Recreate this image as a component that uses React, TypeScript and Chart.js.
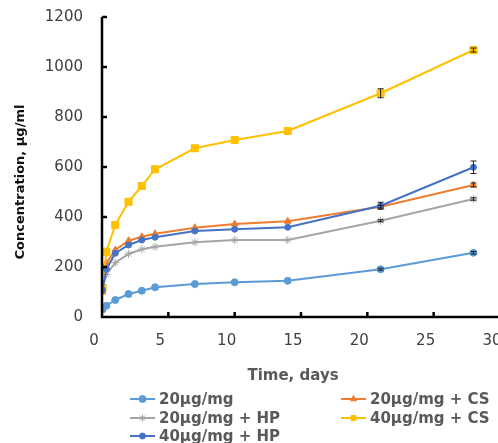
import React, { useEffect, useRef } from "react";
import { Chart, registerables } from "chart.js";
import { drawPoint } from "chart.js/helpers";

Chart.register(...registerables);

// ---- data ----
const days = [0.04, 0.33, 1, 2, 3, 4, 7, 10, 14, 21, 28];
const conc20 = [30, 45, 68, 92, 105, 119, 132, 139, 145, 191, 257];
const conc20CS = [100, 215, 268, 305, 321, 333, 357, 372, 383, 441, 528];
const conc20HP = [118, 170, 217, 252, 271, 281, 299, 308, 308, 385, 472];
const conc40CS = [116, 261, 368, 461, 524, 591, 675, 708, 744, 895, 1068];
const conc40HP = [108, 192, 255, 288, 308, 319, 344, 351, 359, 445, 599];
const err20 = [0, 0, 0, 0, 0, 0, 0, 0, 0, 4, 5];
const err20CS = [0, 0, 0, 0, 0, 0, 0, 0, 0, 5, 8];
const err20HP = [0, 0, 0, 0, 0, 0, 0, 0, 0, 4, 5];
const err40CS = [0, 0, 0, 0, 0, 0, 0, 0, 0, 18, 8];
const err40HP = [0, 0, 0, 0, 0, 0, 0, 0, 0, 14, 25];
const seriesNames = ["20µg/mg", "20µg/mg + CS", "20µg/mg + HP", "40µg/mg + CS", "40µg/mg + HP"];
const xTickValues = [0, 5, 10, 15, 20, 25, 30];
const yTickValues = [0, 200, 400, 600, 800, 1000, 1200];
const xTitle = "Time, days";
const yTitle = "Concentration, µg/ml";

const colors = ["#5B9BD5", "#ED7D31", "#A5A5A5", "#FFC000", "#4472C4"];
const markers = ["circle", "triangle", "star", "rect", "circle"];
const markerRadius = [3.5, 4, 4, 5, 3];

const FONT = "'DejaVu Sans', sans-serif";

const decorPlugin = {
  id: "decor",
  afterDatasetsDraw(chart: any) {
    const ctx = chart.ctx;
    const xs = chart.scales.x;
    const ys = chart.scales.y;
    ctx.save();
    ctx.strokeStyle = "#222";
    ctx.lineWidth = 1;
    chart.data.datasets.forEach((ds: any) => {
      (ds.data as any[]).forEach((p: any, i: number) => {
        const e = ds.errors[i];
        if (!e) return;
        const px = xs.getPixelForValue(p.x);
        const y1 = ys.getPixelForValue(p.y - e);
        const y2 = ys.getPixelForValue(p.y + e);
        ctx.beginPath();
        ctx.moveTo(px, y1);
        ctx.lineTo(px, y2);
        ctx.moveTo(px - 3, y1);
        ctx.lineTo(px + 3, y1);
        ctx.moveTo(px - 3, y2);
        ctx.lineTo(px + 3, y2);
        ctx.stroke();
      });
    });
    ctx.restore();
  },
  afterDraw(chart: any) {
    const ctx = chart.ctx;
    const xs = chart.scales.x;
    const ys = chart.scales.y;
    const ca = chart.chartArea;
    ctx.save();
    ctx.strokeStyle = "#000";
    ctx.lineWidth = 2.5;
    ctx.beginPath();
    ctx.moveTo(ca.left, ca.top);
    ctx.lineTo(ca.left, ca.bottom);
    ctx.lineTo(ca.right + 5, ca.bottom);
    ctx.stroke();
    xTickValues.forEach((v) => {
      if (v === 0) return;
      const px = xs.getPixelForValue(v);
      ctx.beginPath();
      ctx.moveTo(px, ca.bottom);
      ctx.lineTo(px, ca.bottom - 5);
      ctx.stroke();
    });
    yTickValues.forEach((v) => {
      if (v === 0) return;
      const py = ys.getPixelForValue(v);
      ctx.beginPath();
      ctx.moveTo(ca.left, py);
      ctx.lineTo(ca.left + 5, py);
      ctx.stroke();
    });
    ctx.fillStyle = "#595959";
    ctx.font = `bold 15px ${FONT}`;
    ctx.textAlign = "center";
    ctx.textBaseline = "middle";
    ctx.fillText(xTitle, 293, 376);
    ctx.save();
    ctx.translate(21, 182);
    ctx.rotate(-Math.PI / 2);
    ctx.fillStyle = "#111";
    ctx.font = `bold 13px ${FONT}`;
    ctx.fillText(yTitle, 0, 0);
    ctx.restore();
    const colX = [130, 341];
    const rowY = [399, 418, 436];
    ctx.font = `bold 15px ${FONT}`;
    ctx.textAlign = "left";
    chart.data.datasets.forEach((ds: any, i: number) => {
      const x = colX[i % 2];
      const y = rowY[Math.floor(i / 2)];
      ctx.strokeStyle = ds.borderColor;
      ctx.lineWidth = 2;
      ctx.beginPath();
      ctx.moveTo(x, y);
      ctx.lineTo(x + 25, y);
      ctx.stroke();
      ctx.fillStyle = ds.borderColor;
      ctx.strokeStyle = ds.borderColor;
      ctx.lineWidth = 1;
      drawPoint(ctx, { pointStyle: ds.pointStyle, radius: Math.min(ds.pointRadius, 3.5), borderWidth: 1, rotation: 0 } as any, x + 12.5, y);
      ctx.fillStyle = "#595959";
      ctx.fillText(ds.label, x + 29, y + 1);
    });
    ctx.restore();
  },
};

export default function App() {
  const ref = useRef<HTMLCanvasElement | null>(null);
  useEffect(() => {
    if (!ref.current) return;
    const all = [conc20, conc20CS, conc20HP, conc40CS, conc40HP];
    const errs = [err20, err20CS, err20HP, err40CS, err40HP];
    const datasets = all.map((vals, i) => ({
      label: seriesNames[i],
      data: vals.map((v, j) => ({ x: days[j], y: v })),
      errors: errs[i],
      borderColor: colors[i],
      backgroundColor: colors[i],
      pointBackgroundColor: colors[i],
      pointBorderColor: colors[i],
      pointStyle: markers[i],
      pointRadius: markerRadius[i],
      pointBorderWidth: 1,
      borderWidth: 2,
      tension: 0,
      order: 5 - i,
    }));
    const chart = new Chart(ref.current, {
      type: "line",
      data: { datasets } as any,
      options: {
        animation: false,
        responsive: true,
        maintainAspectRatio: false,
        layout: { padding: { left: 0, top: 17, right: 20, bottom: 56 } },
        plugins: { legend: { display: false }, tooltip: { enabled: false } },
        scales: {
          x: {
            type: "linear",
            min: 0,
            max: 30,
            grid: { display: false, drawTicks: false },
            border: { display: false },
            afterFit: (s: any) => {
              s.height = 70;
              s.paddingLeft = 0;
              s.paddingRight = 0;
            },
            ticks: {
              stepSize: 5,
              padding: 15,
              labelOffset: -8,
              color: "#404040",
              font: { family: FONT, size: 15 },
              callback: (v: any) => String(v),
            },
          },
          y: {
            min: 0,
            max: 1200,
            grid: { display: false, drawTicks: false },
            border: { display: false },
            afterFit: (s: any) => {
              s.width = 102;
              s.paddingTop = 0;
              s.paddingBottom = 0;
            },
            ticks: {
              stepSize: 200,
              padding: 19,
              color: "#404040",
              font: { family: FONT, size: 15 },
              callback: (v: any) => String(v),
            },
          },
        },
      },
      plugins: [decorPlugin],
    });
    return () => chart.destroy();
  }, []);
  return (
    <div style={{ position: "fixed", left: 0, top: 0, width: 498, height: 443, overflow: "hidden", background: "#fff" }}>
      <div style={{ position: "relative", width: 520, height: 443 }}>
        <canvas ref={ref} />
      </div>
    </div>
  );
}
